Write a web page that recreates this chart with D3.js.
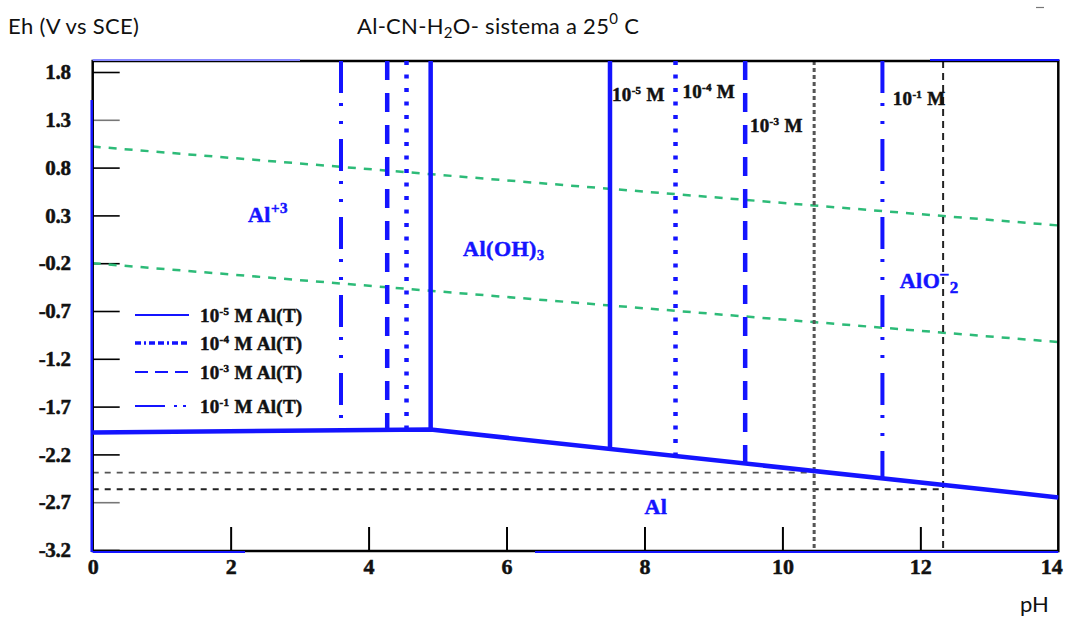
<!DOCTYPE html>
<html>
<head>
<meta charset="utf-8">
<script src="https://cdn.jsdelivr.net/npm/d3@7"></script>
<style>
  html, body { margin: 0; padding: 0; background: #fff; }
  svg { display: block; }
</style>
</head>
<body>
<svg id="chart" width="1065" height="619"></svg>
<script>
// ---------- DATA ----------
const phTicks = [0, 2, 4, 6, 8, 10, 12, 14];
const ehTicks = [1.8, 1.3, 0.8, 0.3, -0.2, -0.7, -1.2, -1.7, -2.2, -2.7, -3.2];

// total Al concentration exponents (10^x M)
const concExponents = ["-5", "-4", "-3", "-1"];
// Al3+/Al(OH)3 boundary pH for each concentration
const al3BoundaryPH = [4.9, 4.55, 4.27, 3.6];
// Al(OH)3/AlO2- boundary pH for each concentration
const alo2BoundaryPH = [7.5, 8.45, 9.46, 11.45];

// Al metal boundary line
const alBoundaryPH = [0, 4.9, 14];
const alBoundaryEh = [-1.97, -1.94, -2.65];

// water stability lines
const waterPH = [0, 14];
const waterUpperEh = [1.02, 0.195];
const waterLowerEh = [-0.20, -1.025];

// black reference lines
const refVerticalPH = [10.46, 12.33];
const refHorizontalEh = [-2.39, -2.565];

// region labels
const regionNames = ["Al", "Al(OH)", "AlO", "Al"];
const regionPH = [2.25, 5.37, 11.7, 8.0];
const regionEh = [0.23, -0.125, -0.46, -2.82];

// concentration labels at top
const topLabelPH = [7.53, 8.55, 9.53, 11.6];
const topLabelEh = [1.50, 1.53, 1.17, 1.45];

// ---------- LAYOUT ----------
const svg = d3.select("#chart");
const X0 = 92.7, X1 = 1058.3, Ytop = 61, Y18 = 72, Ybot = 550;
const x = d3.scaleLinear().domain([0, 14]).range([X0, X1]);
const y = d3.scaleLinear().domain([-3.2, 1.8]).range([Ybot, Y18]);
const ehMax = y.invert(Ytop);
const alAt = d3.scaleLinear().domain(alBoundaryPH).range(alBoundaryEh);

const BLUE = "#1414ff";
const GREEN = "#2dbb78";
const serif = "'Liberation Serif', 'DejaVu Serif', serif";
const sans = "Lato, 'Open Sans', sans-serif";

const styles = {
  "-5": { dash: null, w: 4.5 },
  "-4": { dash: "4,9.5", w: 4.5 },
  "-3": { dash: "19,13", w: 4.5 },
  "-1": { dash: "32,10,3,15,3,15", w: 4 }
};
const legendStyles = {
  "-5": { dash: null, w: 2 },
  "-4": { dash: "6,3,2,3,6,3", w: 3.5 },
  "-3": { dash: "13,7", w: 2 },
  "-1": { dash: "30,9,3,6,3,6", w: 2 }
};

function boldify(sel, c) {
  return sel.attr("stroke", c).attr("stroke-width", 0.5).attr("paint-order", "stroke");
}

// ---------- TITLES ----------
svg.append("text").attr("x", 8).attr("y", 34).attr("font-family", sans)
  .attr("font-size", 22).attr("letter-spacing", 0.3).attr("fill", "#111").text("Eh (V vs SCE)");
const tt = svg.append("text").attr("x", 357).attr("y", 34).attr("font-family", sans)
  .attr("font-size", 22).attr("letter-spacing", 0.3).attr("fill", "#111");
tt.append("tspan").text("Al-CN-H");
tt.append("tspan").text("2").attr("font-size", 15).attr("dy", 4);
tt.append("tspan").text("O- sistema a 25").attr("dy", -4);
tt.append("tspan").text("0").attr("font-size", 15).attr("dy", -10);
tt.append("tspan").text(" C").attr("dy", 10);
svg.append("text").attr("x", 1020).attr("y", 612).attr("font-family", sans)
  .attr("font-size", 22).attr("fill", "#111").text("pH");
svg.append("line").attr("x1", 1036).attr("x2", 1044).attr("y1", 7.5).attr("y2", 7.5)
  .attr("stroke", "#777").attr("stroke-width", 1.2);

// ---------- AXES ----------
const gy = svg.append("g").attr("transform", `translate(${X0},0)`)
  .call(d3.axisLeft(y).tickValues(ehTicks).tickSize(-27).tickPadding(22)
    .tickFormat(d => d3.format(".1f")(d).replace("−", "-")));
gy.select(".domain").remove();
gy.selectAll(".tick line").attr("stroke", (d) => (d === 1.3 || d === -2.7) ? "#777" : "#000").attr("stroke-width", 1.6);
boldify(gy.selectAll(".tick text").attr("font-family", serif).attr("font-weight", "bold")
  .attr("font-size", 21).attr("fill", "#111").attr("letter-spacing", -0.3), "#111");

const gx = svg.append("g").attr("transform", `translate(0,${Ybot + 1})`)
  .call(d3.axisBottom(x).tickValues(phTicks).tickSize(-24).tickPadding(7));
gx.select(".domain").remove();
gx.selectAll(".tick line").attr("stroke", "#000").attr("stroke-width", 2)
  .attr("display", d => (d === 0 || d === 14) ? "none" : null);
boldify(gx.selectAll(".tick text").attr("font-family", serif).attr("font-weight", "bold")
  .attr("font-size", 22).attr("fill", "#111"), "#111");
gx.selectAll(".tick text").filter(d => d === 14).attr("text-anchor", "end").attr("dx", 4);

// ---------- WATER LINES ----------
const line = d3.line().x(d => x(d[0])).y(d => y(d[1]));
[waterUpperEh, waterLowerEh].forEach(eh => {
  svg.append("path").datum(waterPH.map((p, i) => [p, eh[i]])).attr("d", line)
    .attr("fill", "none").attr("stroke", GREEN).attr("stroke-width", 2.5)
    .attr("stroke-dasharray", "8,8");
});

// ---------- BLACK REFERENCE LINES ----------
refHorizontalEh.forEach((eh, i) => {
  svg.append("line").attr("x1", x(0)).attr("x2", x(refVerticalPH[i]))
    .attr("y1", y(eh)).attr("y2", y(eh))
    .attr("stroke", i === 0 ? "#555" : "#222").attr("stroke-width", i === 0 ? 1.8 : 2)
    .attr("stroke-dasharray", "6,6");
});
refVerticalPH.forEach((ph, i) => {
  svg.append("line").attr("x1", x(ph)).attr("x2", x(ph))
    .attr("y1", y(ehMax)).attr("y2", Ybot + 1)
    .attr("stroke", i === 0 ? "#555" : "#222").attr("stroke-width", i === 0 ? 3 : 2)
    .attr("stroke-dasharray", i === 0 ? "4,3" : "7,5");
});

// ---------- FRAME ----------
svg.append("rect").attr("x", X0).attr("y", Ytop).attr("width", X1 - X0).attr("height", Ybot + 1 - Ytop)
  .attr("fill", "none").attr("stroke", "#000").attr("stroke-width", 2.5);
svg.append("line").attr("x1", X0 - 1).attr("x2", X0 - 1).attr("y1", 100).attr("y2", Ybot + 2)
  .attr("stroke", BLUE).attr("stroke-width", 2.5);
svg.append("line").attr("x1", X0).attr("x2", 245).attr("y1", Ybot + 2).attr("y2", Ybot + 2)
  .attr("stroke", BLUE).attr("stroke-width", 2);
svg.append("line").attr("x1", 535).attr("x2", X1).attr("y1", Ybot + 2).attr("y2", Ybot + 2)
  .attr("stroke", BLUE).attr("stroke-width", 2);
svg.append("line").attr("x1", 930).attr("x2", X1 + 1).attr("y1", Ytop - 1).attr("y2", Ytop - 1)
  .attr("stroke", BLUE).attr("stroke-width", 2);
svg.append("line").attr("x1", X0).attr("x2", 300).attr("y1", Ytop - 1).attr("y2", Ytop - 1)
  .attr("stroke", "#8888ff").attr("stroke-width", 2);

// ---------- Al BOUNDARY ----------
svg.append("path").datum(alBoundaryPH.map((p, i) => [p, alBoundaryEh[i]])).attr("d", line)
  .attr("fill", "none").attr("stroke", BLUE).attr("stroke-width", 4.5);

// ---------- CONCENTRATION VERTICALS ----------
[al3BoundaryPH, alo2BoundaryPH].forEach(arr => {
  arr.forEach((ph, i) => {
    const st = styles[concExponents[i]];
    svg.append("line").attr("x1", x(ph)).attr("x2", x(ph))
      .attr("y1", y(ehMax)).attr("y2", y(alAt(ph)))
      .attr("stroke", BLUE).attr("stroke-width", st.w)
      .attr("stroke-dasharray", st.dash);
  });
});

// ---------- REGION LABELS ----------
const rsize = 22;
function regionText(i) {
  return boldify(svg.append("text").attr("x", x(regionPH[i])).attr("y", y(regionEh[i]))
    .attr("font-family", serif).attr("font-weight", "bold").attr("font-size", rsize)
    .attr("fill", BLUE).attr("letter-spacing", 0.5), BLUE);
}
let t0 = regionText(0);
t0.append("tspan").text(regionNames[0]);
t0.append("tspan").text("+3").attr("font-size", 15).attr("dy", -9);
let t1 = regionText(1);
t1.append("tspan").text(regionNames[1]);
t1.append("tspan").text("3").attr("font-size", 14).attr("dy", 4);
let t2 = regionText(2);
t2.append("tspan").text(regionNames[2]);
t2.append("tspan").text("–").attr("font-size", 16).attr("dy", -9);
t2.append("tspan").text("2").attr("font-size", 17).attr("dy", 14).attr("dx", 1);
let t3 = regionText(3);
t3.append("tspan").text(regionNames[3]);

// ---------- TOP CONCENTRATION LABELS ----------
concExponents.forEach((e, i) => {
  const t = boldify(svg.append("text").attr("x", x(topLabelPH[i])).attr("y", y(topLabelEh[i]))
    .attr("font-family", serif).attr("font-weight", "bold").attr("font-size", 19)
    .attr("fill", "#111").attr("letter-spacing", 0.3), "#111");
  t.append("tspan").text("10");
  t.append("tspan").text(e).attr("font-size", 11).attr("dy", -7);
  t.append("tspan").text(" M").attr("dy", 7);
});

// ---------- LEGEND ----------
const legendY = [315, 343, 372, 406];
concExponents.forEach((e, i) => {
  const st = legendStyles[e];
  svg.append("line").attr("x1", 135).attr("x2", 189).attr("y1", legendY[i]).attr("y2", legendY[i])
    .attr("stroke", BLUE).attr("stroke-width", st.w).attr("stroke-dasharray", st.dash);
  const t = boldify(svg.append("text").attr("x", 200).attr("y", legendY[i] + 7)
    .attr("font-family", serif).attr("font-weight", "bold").attr("font-size", 19)
    .attr("fill", "#111").attr("letter-spacing", 0.3), "#111");
  t.append("tspan").text("10");
  t.append("tspan").text(e).attr("font-size", 11).attr("dy", -7);
  t.append("tspan").text(" M Al(T)").attr("dy", 7);
});
</script>
</body>
</html>
